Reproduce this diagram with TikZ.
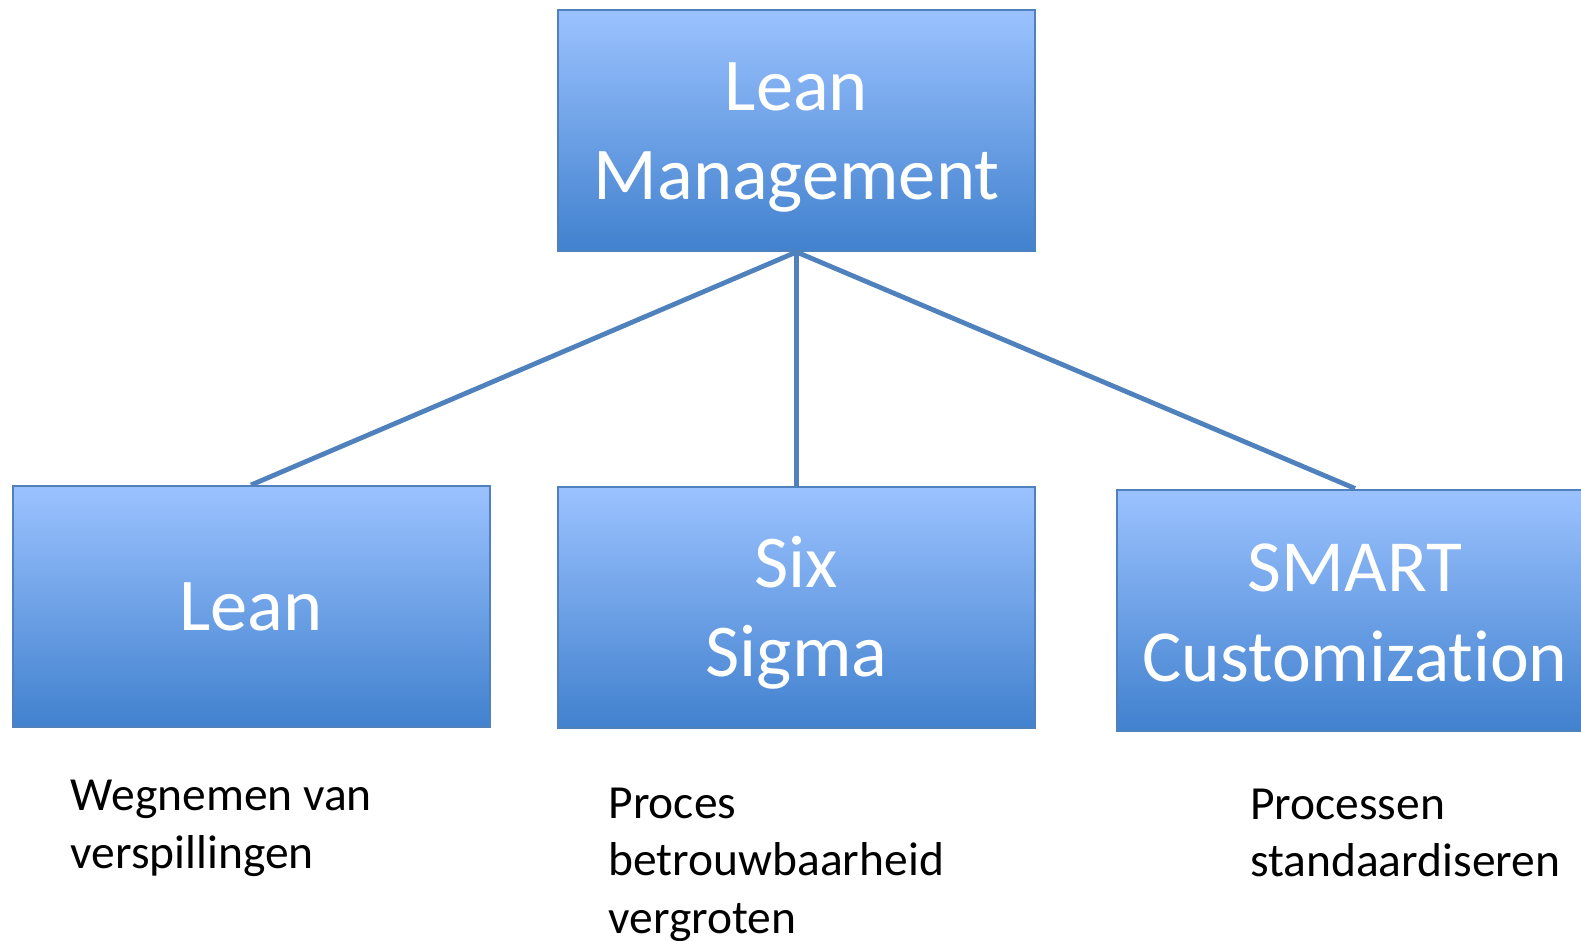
\documentclass[tikz,border=0pt]{standalone}
\usepackage{fontspec}
\setmainfont{Carlito}[Ligatures=NoCommon]
\definecolor{edge}{RGB}{79,129,189}
\definecolor{topc}{RGB}{155,194,255}
\definecolor{botc}{RGB}{65,129,206}
\tikzset{
  box/.style={rectangle, draw=edge, line width=2pt, top color=topc, bottom color=botc,
    minimum width=477pt, minimum height=241pt, inner sep=0pt},
  boxtext/.style={anchor=base, inner sep=0pt, text=white, align=center,
    font=\fontsize{74.5}{88.5}\selectfont},
  link/.style={draw=edge, line width=4.8pt},
  caption/.style={anchor=base west, inner sep=0pt, align=left, font=\fontsize{47.5}{57.5}\selectfont}
}
\begin{document}
\begin{tikzpicture}[x=1pt,y=-1pt]
\path[use as bounding box] (0,0) rectangle (1581,941);
\clip (0,0) rectangle (1581,941);
\fill[white] (0,0) rectangle (1581,941);
\node[box] (lm) at (796.5,130.5) {};
\node[box] (lean) at (251,606.5) {};
\node[box] (six) at (796.5,607.5) {};
\node[box] (smart) at (1355,610) {};
\node[boxtext] (lmt) at (796.5,199.3) {Lean\\Management};
\node[boxtext] (leant) at (251,630.7) {Lean};
\node[boxtext, font=\fontsize{74.5}{89}\selectfont] (sixt) at (796.5,676.3) {Six\\Sigma};
\node[boxtext, font=\fontsize{73.5}{90}\selectfont] (smartt) at (1355,681.7) {SMART\\Customization};
\draw[link] (lm.south) -- (lean.north);
\draw[link] (lm.south) -- (six.north);
\draw[link] (lm.south) -- (smart.north);
\node[caption] (c1) at (70.7,868.3) {Wegnemen van\\verspillingen};
\node[caption] (c2) at (608.3,933.3) {Proces\\betrouwbaarheid\\vergroten};
\node[caption] (c3) at (1250,876.7) {Processen\\standaardiseren};
\end{tikzpicture}
\end{document}
